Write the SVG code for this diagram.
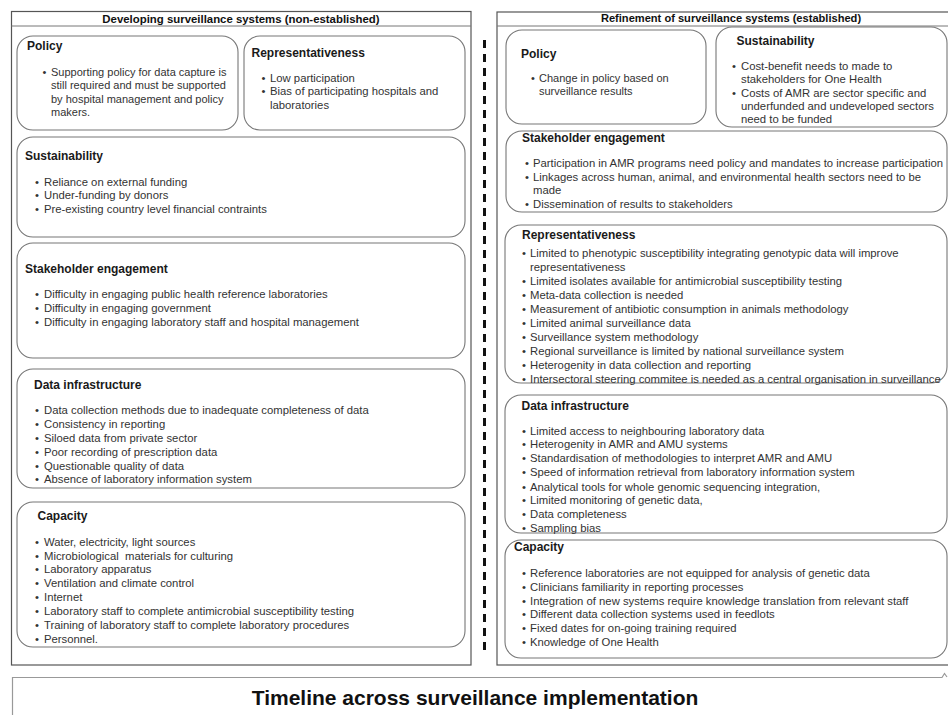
<svg xmlns="http://www.w3.org/2000/svg" width="948" height="715" viewBox="0 0 948 715">
<style>
.panel{fill:#fff;stroke:#555;stroke-width:1.2}
.sep{stroke:#777;stroke-width:1}
.box{fill:#fff;stroke:#777;stroke-width:1.1}
.title{font-family:"Liberation Sans",Arial,sans-serif;font-weight:bold;font-size:11.4px;fill:#111}
.h{font-family:"Liberation Sans",Arial,sans-serif;font-weight:bold;font-size:12px;fill:#1a1a1a}
.t{font-family:"Liberation Sans",Arial,sans-serif;font-size:11.3px;fill:#333}
.s{font-size:11px}
.big{font-family:"Liberation Sans",Arial,sans-serif;font-weight:bold;font-size:21px;fill:#111}
</style>
<rect width="948" height="715" fill="#fff"/>

<g id="panel-left">
<rect class="panel" x="11.5" y="11.5" width="459.5" height="653.5"/>
<line class="sep" x1="11.5" y1="26" x2="471" y2="26"/>
<text class="title" x="241" y="22.5" text-anchor="middle">Developing surveillance systems (non-established)</text>
</g>

<g id="panel-right">
<rect class="panel" x="497" y="12" width="480" height="653"/>
<line class="sep" x1="497" y1="26" x2="948" y2="26"/>
<text class="title" x="731" y="21.5" text-anchor="middle" style="font-size:11.1px">Refinement of surveillance systems (established)</text>
</g>

<g id="l-policy">
<rect class="box" x="17" y="36" width="221" height="94" rx="16"/>
<text class="h" x="27" y="50">Policy</text>
<text class="t s" x="42.5" y="75.5">•</text>
<text class="t s" x="51" y="75.5">Supporting policy for data capture is</text>
<text class="t s" x="51" y="89">still required and must be supported</text>
<text class="t s" x="51" y="102.5">by hospital management and policy</text>
<text class="t s" x="51" y="116">makers.</text>
</g>

<g id="l-representativeness">
<rect class="box" x="244" y="36" width="221" height="94" rx="16"/>
<text class="h" x="251.5" y="56.5">Representativeness</text>
<text class="t" x="261.5" y="81.5">•</text>
<text class="t" x="270" y="81.5">Low participation</text>
<text class="t" x="261.5" y="95">•</text>
<text class="t" x="270" y="95">Bias of participating hospitals and</text>
<text class="t" x="270" y="108.5">laboratories</text>
</g>

<g id="l-sustainability">
<rect class="box" x="17" y="137" width="448" height="100" rx="16"/>
<text class="h" x="25" y="160">Sustainability</text>
<text class="t" x="35" y="185.5">•</text>
<text class="t" x="44" y="185.5">Reliance on external funding</text>
<text class="t" x="35" y="199">•</text>
<text class="t" x="44" y="199">Under-funding by donors</text>
<text class="t" x="35" y="213">•</text>
<text class="t" x="44" y="213">Pre-existing country level financial contraints</text>
</g>

<g id="l-stakeholder">
<rect class="box" x="17" y="243" width="448" height="115" rx="16"/>
<text class="h" x="25" y="273">Stakeholder engagement</text>
<text class="t" x="35" y="298">•</text>
<text class="t" x="44" y="298">Difficulty in engaging public health reference laboratories</text>
<text class="t" x="35" y="312">•</text>
<text class="t" x="44" y="312">Difficulty in engaging government</text>
<text class="t" x="35" y="326">•</text>
<text class="t" x="44" y="326">Difficulty in engaging laboratory staff and hospital management</text>
</g>

<g id="l-data">
<rect class="box" x="17" y="369" width="448" height="119" rx="16"/>
<text class="h" x="34" y="388.5">Data infrastructure</text>
<text class="t" x="35" y="414">•</text>
<text class="t" x="44" y="414">Data collection methods due to inadequate completeness of data</text>
<text class="t" x="35" y="428">•</text>
<text class="t" x="44" y="428">Consistency in reporting</text>
<text class="t" x="35" y="441.5">•</text>
<text class="t" x="44" y="441.5">Siloed data from private sector</text>
<text class="t" x="35" y="455.5">•</text>
<text class="t" x="44" y="455.5">Poor recording of prescription data</text>
<text class="t" x="35" y="469.5">•</text>
<text class="t" x="44" y="469.5">Questionable quality of data</text>
<text class="t" x="35" y="483">•</text>
<text class="t" x="44" y="483">Absence of laboratory information system</text>
</g>

<g id="l-capacity">
<rect class="box" x="17" y="502" width="448" height="145" rx="16"/>
<text class="h" x="37.5" y="520">Capacity</text>
<text class="t" x="35" y="545.5">•</text>
<text class="t" x="44" y="545.5">Water, electricity, light sources</text>
<text class="t" x="35" y="559.5">•</text>
<text class="t" x="44" y="559.5" xml:space="preserve">Microbiological  materials for culturing</text>
<text class="t" x="35" y="573">•</text>
<text class="t" x="44" y="573">Laboratory apparatus</text>
<text class="t" x="35" y="587">•</text>
<text class="t" x="44" y="587">Ventilation and climate control</text>
<text class="t" x="35" y="601">•</text>
<text class="t" x="44" y="601">Internet</text>
<text class="t" x="35" y="615">•</text>
<text class="t" x="44" y="615">Laboratory staff to complete antimicrobial susceptibility testing</text>
<text class="t" x="35" y="629">•</text>
<text class="t" x="44" y="629">Training of laboratory staff to complete laboratory procedures</text>
<text class="t" x="35" y="643">•</text>
<text class="t" x="44" y="643">Personnel.</text>
</g>

<g id="r-policy">
<rect class="box" x="506" y="30" width="200" height="94" rx="16"/>
<text class="h" x="521" y="58">Policy</text>
<text class="t s" x="531" y="81.5">•</text>
<text class="t s" x="539" y="81.5">Change in policy based on</text>
<text class="t s" x="539" y="95">surveillance results</text>
</g>

<g id="r-sustainability">
<rect class="box" x="716" y="27" width="231" height="100" rx="16"/>
<text class="h" x="736.5" y="45">Sustainability</text>
<text class="t" x="732" y="69.5">•</text>
<text class="t" x="741" y="69.5">Cost-benefit needs to made to</text>
<text class="t" x="741" y="83">stakeholders for One Health</text>
<text class="t" x="732" y="96.5">•</text>
<text class="t" x="741" y="96.5">Costs of AMR are sector specific and</text>
<text class="t" x="741" y="109.5">underfunded and undeveloped sectors</text>
<text class="t" x="741" y="123">need to be funded</text>
</g>

<g id="r-stakeholder">
<rect class="box" x="506" y="131" width="441" height="81" rx="16"/>
<text class="h" x="522" y="142">Stakeholder engagement</text>
<text class="t" x="525" y="167">•</text>
<text class="t" x="533" y="167">Participation in AMR programs need policy and mandates to increase participation</text>
<text class="t" x="525" y="180.5">•</text>
<text class="t" x="533" y="180.5">Linkages across human, animal, and environmental health sectors need to be</text>
<text class="t" x="533" y="194">made</text>
<text class="t" x="525" y="208">•</text>
<text class="t" x="533" y="208">Dissemination of results to stakeholders</text>
</g>

<g id="r-representativeness">
<rect class="box" x="505" y="225" width="442" height="158" rx="16"/>
<text class="h" x="522" y="238.5">Representativeness</text>
<text class="t" x="522" y="257">•</text>
<text class="t" x="530" y="257">Limited to phenotypic susceptibility integrating genotypic data will improve</text>
<text class="t" x="530" y="271">representativeness</text>
<text class="t" x="522" y="285">•</text>
<text class="t" x="530" y="285">Limited isolates available for antimicrobial susceptibility testing</text>
<text class="t" x="522" y="299">•</text>
<text class="t" x="530" y="299">Meta-data collection is needed</text>
<text class="t" x="522" y="313">•</text>
<text class="t" x="530" y="313">Measurement of antibiotic consumption in animals methodology</text>
<text class="t" x="522" y="327">•</text>
<text class="t" x="530" y="327">Limited animal surveillance data</text>
<text class="t" x="522" y="340.5">•</text>
<text class="t" x="530" y="340.5">Surveillance system methodology</text>
<text class="t" x="522" y="354.5">•</text>
<text class="t" x="530" y="354.5">Regional surveillance is limited by national surveillance system</text>
<text class="t" x="522" y="368.5">•</text>
<text class="t" x="530" y="368.5">Heterogenity in data collection and reporting</text>
<text class="t" x="522" y="383">•</text>
<text class="t" x="530" y="383">Intersectoral steering commitee is needed as a central organisation in surveillance</text>
</g>

<g id="r-data">
<rect class="box" x="505" y="395" width="442" height="138" rx="16"/>
<text class="h" x="521.5" y="410">Data infrastructure</text>
<text class="t" x="522" y="434.5">•</text>
<text class="t" x="530" y="434.5">Limited access to neighbouring laboratory data</text>
<text class="t" x="522" y="448">•</text>
<text class="t" x="530" y="448">Heterogenity in AMR and AMU systems</text>
<text class="t" x="522" y="462">•</text>
<text class="t" x="530" y="462">Standardisation of methodologies to interpret AMR and AMU</text>
<text class="t" x="522" y="476">•</text>
<text class="t" x="530" y="476">Speed of information retrieval from laboratory information system</text>
<text class="t" x="522" y="490.5">•</text>
<text class="t" x="530" y="490.5">Analytical tools for whole genomic sequencing integration,</text>
<text class="t" x="522" y="504">•</text>
<text class="t" x="530" y="504">Limited monitoring of genetic data,</text>
<text class="t" x="522" y="518">•</text>
<text class="t" x="530" y="518">Data completeness</text>
<text class="t" x="522" y="531.5">•</text>
<text class="t" x="530" y="531.5">Sampling bias</text>
</g>

<g id="r-capacity">
<rect class="box" x="505" y="540" width="442" height="118" rx="16"/>
<text class="h" x="514" y="551">Capacity</text>
<text class="t" x="522" y="576.5">•</text>
<text class="t" x="530" y="576.5">Reference laboratories are not equipped for analysis of genetic data</text>
<text class="t" x="522" y="590.5">•</text>
<text class="t" x="530" y="590.5">Clinicians familiarity in reporting processes</text>
<text class="t" x="522" y="604.5">•</text>
<text class="t" x="530" y="604.5">Integration of new systems require knowledge translation from relevant staff</text>
<text class="t" x="522" y="618">•</text>
<text class="t" x="530" y="618">Different data collection systems used in feedlots</text>
<text class="t" x="522" y="632">•</text>
<text class="t" x="530" y="632">Fixed dates for on-going training required</text>
<text class="t" x="522" y="645.5">•</text>
<text class="t" x="530" y="645.5">Knowledge of One Health</text>
</g>

<g id="connectors">
<line x1="484.5" y1="40" x2="484.5" y2="654" stroke="#111" stroke-width="3" stroke-dasharray="8 6"/>
</g>

<g id="timeline">
<path d="M12.5 716 V677.5 H942 L944.5 673.5 L947 677" fill="none" stroke="#999" stroke-width="1.2"/>
<text class="big" x="475" y="705" text-anchor="middle">Timeline across surveillance implementation</text>
</g>
</svg>
